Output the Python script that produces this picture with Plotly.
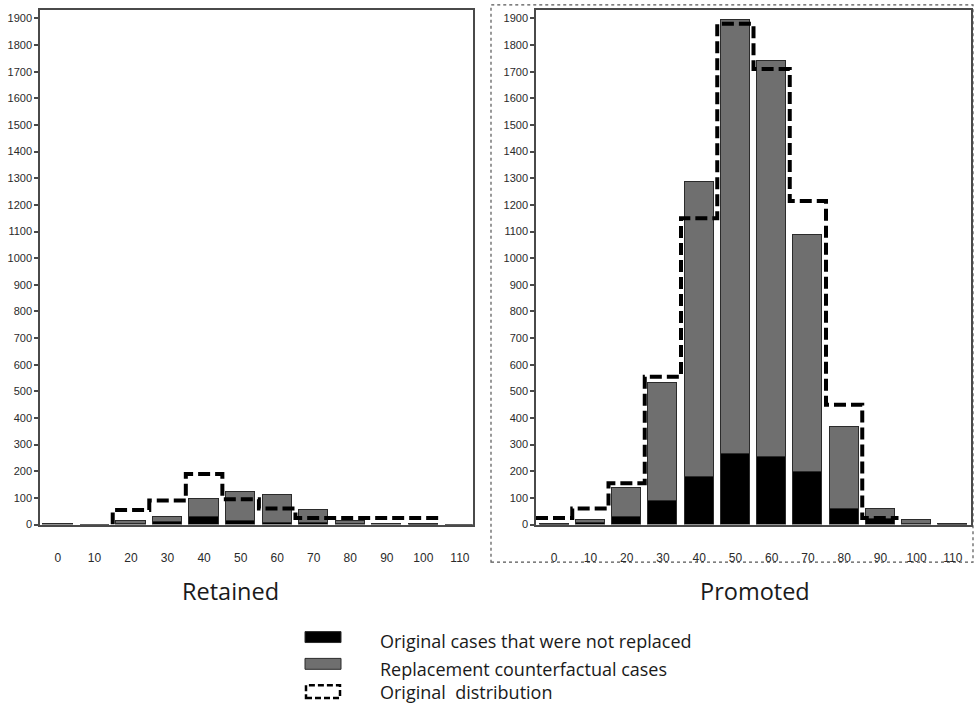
import plotly.graph_objects as go

# ---------------- data ----------------
categories = [0, 10, 20, 30, 40, 50, 60, 70, 80, 90, 100, 110]
tick_labels = ["0", "10", "20", "30", "40", "50", "60", "70", "80", "90", "100", "110"]

# Retained
retained_not_replaced = [1, 0, 4, 8, 30, 14, 5, 5, 3, 1, 0, 0]
retained_replacement = [2, 0, 8, 20, 67, 107, 106, 50, 12, 2, 3, 0]
retained_original = [None, None, 55, 90, 190, 95, 60, 25, 25, 25, 25, None]

# Promoted
promoted_not_replaced = [0, 5, 27, 88, 178, 265, 255, 198, 58, 20, 3, 0]
promoted_replacement = [2, 13, 111, 444, 1108, 1631, 1486, 890, 308, 40, 15, 3]
promoted_original = [25, 60, 155, 555, 1150, 1880, 1710, 1215, 450, 25, None, None]

y_tick_values = list(range(0, 2000, 100))

panel_titles = ["Retained", "Promoted"]
legend_labels = ["Original cases that were not replaced",
                 "Replacement counterfactual cases",
                 "Original  distribution"]

# ---------------- styling ----------------
W, H = 974, 711
BLACK = "#000000"
GRAY = "#6f6f6f"
EDGE = "#2b2b2b"
AXIS = "#4a4a4a"
TICKFONT = dict(family="Liberation Sans Narrow, Liberation Sans, Arial, sans-serif",
                size=11, color="#2a2a2a")
XTICKFONT = dict(family="Liberation Sans Narrow, Liberation Sans, Arial, sans-serif",
                 size=12, color="#2a2a2a")
TEXTFONT = dict(family="Open Sans, Noto Sans, sans-serif", color="#1a1a1a")
BIN = 10  # bin width in data units


def px_x(p):
    return p / W


def px_y(p):
    return 1 - p / H


def step_path(cats, vals):
    xs, ys = [], []
    first = True
    for c, v in zip(cats, vals):
        if v is None:
            continue
        if first and c != cats[0]:
            xs.append(c - BIN / 2)
            ys.append(0)
        first = False
        xs += [c - BIN / 2, c + BIN / 2]
        ys += [v, v]
    return xs, ys


fig = go.Figure()

panels = [
    ("x", "y", retained_not_replaced, retained_replacement, retained_original),
    ("x2", "y2", promoted_not_replaced, promoted_replacement, promoted_original),
]

for xa, ya, blk, gry, orig in panels:
    fig.add_trace(go.Bar(x=categories, y=blk, xaxis=xa, yaxis=ya, width=8,
                         marker=dict(color=BLACK, line=dict(color=EDGE, width=1)),
                         showlegend=False, hoverinfo="skip"))
    fig.add_trace(go.Bar(x=categories, y=gry, xaxis=xa, yaxis=ya, width=8,
                         marker=dict(color=GRAY, line=dict(color=EDGE, width=1)),
                         showlegend=False, hoverinfo="skip"))
    sx, sy = step_path(categories, orig)
    fig.add_trace(go.Scatter(x=sx, y=sy, xaxis=xa, yaxis=ya, mode="lines",
                             line=dict(color=BLACK, width=4, dash="12px,5px"),
                             showlegend=False, hoverinfo="skip", cliponaxis=False))

y_top = px_y(10)
y_bot = px_y(529)

axis_common = dict(showline=True, linecolor=AXIS, linewidth=1.5, mirror=True,
                   showgrid=False, zeroline=False)

fig.update_layout(
    width=W, height=H, autosize=False,
    margin=dict(l=0, r=0, t=0, b=0),
    paper_bgcolor="white", plot_bgcolor="white",
    barmode="stack", bargap=0,
    showlegend=False,
    xaxis=dict(domain=[px_x(40), px_x(472.7)], range=[-4.9, 113.5],
               tickvals=categories, ticktext=tick_labels, ticks="",
               ticklabelstandoff=21, tickfont=XTICKFONT, anchor="y", **axis_common),
    yaxis=dict(domain=[y_bot, y_top], range=[0, 1932], tickvals=y_tick_values,
               ticks="outside", ticklen=4, tickcolor=AXIS, tickwidth=1.5,
               tickfont=TICKFONT, anchor="x", **axis_common),
    xaxis2=dict(domain=[px_x(536), px_x(971)], range=[-5, 115],
                tickvals=categories, ticktext=tick_labels, ticks="",
                ticklabelstandoff=21, tickfont=XTICKFONT, anchor="y2", **axis_common),
    yaxis2=dict(domain=[y_bot, y_top], range=[0, 1932], tickvals=y_tick_values,
                ticks="outside", ticklen=4, tickcolor=AXIS, tickwidth=1.5,
                tickfont=TICKFONT, anchor="x2", **axis_common),
)

shapes = []
# dotted outer frame around the Promoted panel
shapes.append(dict(type="rect", xref="paper", yref="paper",
                   x0=px_x(491), x1=px_x(973), y0=px_y(567), y1=px_y(5),
                   line=dict(color="#555555", width=1.2, dash="dot"),
                   fillcolor="rgba(0,0,0,0)", layer="below"))

# legend swatches
shapes.append(dict(type="rect", xref="paper", yref="paper",
                   x0=px_x(305), x1=px_x(341), y0=px_y(648), y1=px_y(637),
                   line=dict(color=EDGE, width=1), fillcolor=BLACK))
shapes.append(dict(type="rect", xref="paper", yref="paper",
                   x0=px_x(305), x1=px_x(341), y0=px_y(675), y1=px_y(664),
                   line=dict(color=EDGE, width=1), fillcolor=GRAY))
shapes.append(dict(type="rect", xref="paper", yref="paper",
                   x0=px_x(306), x1=px_x(340), y0=px_y(704), y1=px_y(691),
                   line=dict(color=BLACK, width=2.5, dash="6px,3px"),
                   fillcolor="rgba(0,0,0,0)"))
fig.update_layout(shapes=shapes)

annotations = []
for title, cx in zip(panel_titles, [230.5, 755]):
    annotations.append(dict(text=title, xref="paper", yref="paper",
                            x=px_x(cx), y=px_y(596), xanchor="center", yanchor="middle",
                            showarrow=False, font=dict(size=23.5, **TEXTFONT)))
for lbl, cy in zip(legend_labels, [646, 674.5, 698]):
    annotations.append(dict(text=lbl, xref="paper", yref="paper",
                            x=px_x(378), y=px_y(cy), xanchor="left", yanchor="middle",
                            showarrow=False, font=dict(size=18, **TEXTFONT)))
fig.update_layout(annotations=annotations)

fig.write_html("out.html", config={"displayModeBar": False},
               post_script="document.body.style.margin='0px';")
